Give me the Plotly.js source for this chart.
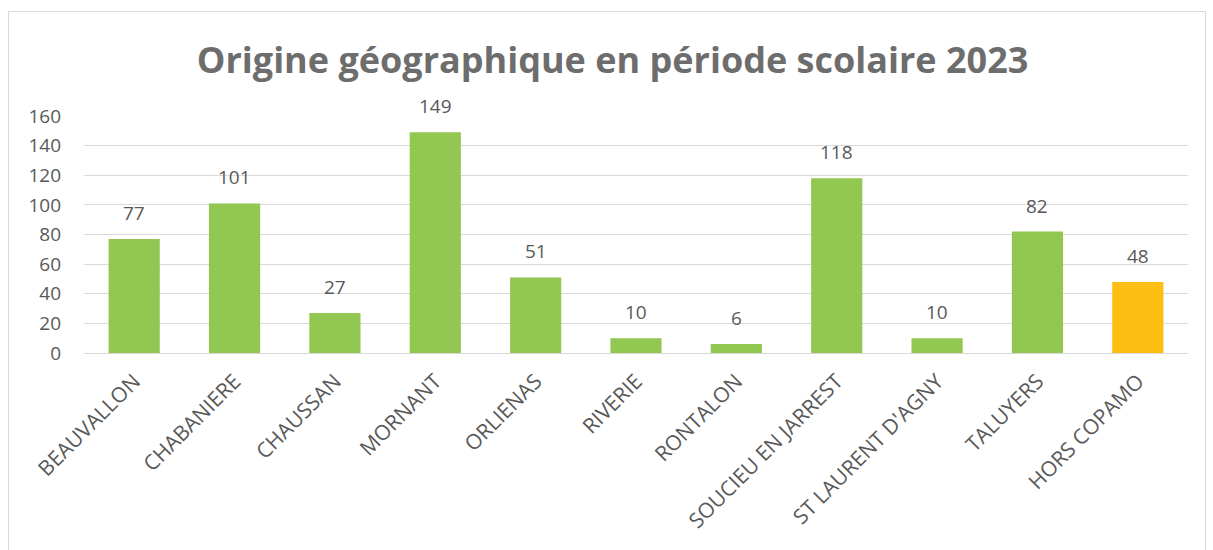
<!DOCTYPE html>
<html>
<head>
<meta charset="utf-8">
<script src="https://cdn.plot.ly/plotly-3.0.1.min.js"></script>
<style>
body{margin:0;background:#fff;}
#cadre{position:absolute;left:8px;top:11px;width:1196px;height:545px;border:1px solid #d9d9d9;pointer-events:none;}
#myDiv{position:absolute;left:0;top:0;width:1213px;height:550px;}
</style>
</head>
<body>
<div id="myDiv"></div>
<div id="cadre"></div>
<script>
// donnees
var communes = ['BEAUVALLON','CHABANIERE','CHAUSSAN','MORNANT','ORLIENAS','RIVERIE','RONTALON','SOUCIEU EN JARREST',"ST LAURENT D'AGNY",'TALUYERS','HORS COPAMO'];
var effectifs = [77, 101, 27, 149, 51, 10, 6, 118, 10, 82, 48];
var couleurs = ['#92c851','#92c851','#92c851','#92c851','#92c851','#92c851','#92c851','#92c851','#92c851','#92c851','#fdbf13'];
var graduations = [0, 20, 40, 60, 80, 100, 120, 140, 160];

var gris = '#595959';

var trace1 = {
    x: communes,
    y: effectifs,
    type: 'bar',
    marker: {color: couleurs},
    hoverinfo: 'x+y'
};

// etiquettes au dessus des barres
var etiquettes = [];
for (var i = 0; i < communes.length; i++) {
    etiquettes.push({
        x: communes[i],
        y: effectifs[i],
        text: String(effectifs[i]),
        xanchor: 'center',
        yanchor: 'middle',
        yshift: 26,
        showarrow: false,
        font: {family: 'Open Sans, sans-serif', size: 19, color: gris}
    });
}

var layout = {
    width: 1213,
    height: 550,
    margin: {l: 84, r: 25, t: 116, b: 197},
    paper_bgcolor: 'rgba(0,0,0,0)',
    plot_bgcolor: 'rgba(0,0,0,0)',
    title: {
        text: '<b>Origine géographique en période scolaire 2023</b>',
        font: {family: 'Open Sans, sans-serif', size: 36, color: '#6d6d6d'},
        x: 0.505,
        xanchor: 'center',
        y: 0.89,
        yanchor: 'middle'
    },
    bargap: 0.49,
    showlegend: false,
    xaxis: {
        tickangle: -45,
        tickfont: {family: 'Open Sans, sans-serif', size: 21, color: gris},
        showline: false,
        ticks: '',
        ticklabelstandoff: 11
    },
    yaxis: {
        range: [0, 160],
        tickvals: graduations,
        tickfont: {family: 'Open Sans, sans-serif', size: 19, color: gris},
        gridcolor: '#d9d9d9',
        gridwidth: 1,
        zeroline: true,
        zerolinecolor: '#d9d9d9',
        zerolinewidth: 1,
        ticks: '',
        ticklen: 0,
        ticklabelstandoff: 22
    },
    annotations: etiquettes
};

Plotly.newPlot('myDiv', [trace1], layout, {displayModeBar: false, staticPlot: true});
</script>
</body>
</html>
